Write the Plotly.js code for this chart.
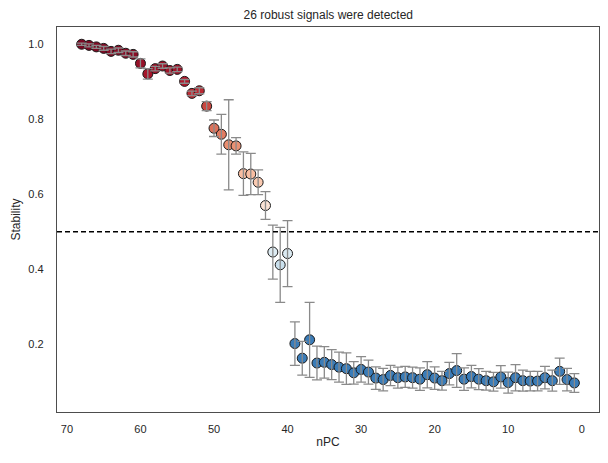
<!DOCTYPE html>
<html>
<head>
<meta charset="utf-8">
<script src="https://cdn.plot.ly/plotly-3.0.1.min.js"></script>
<style>
  html, body { margin: 0; padding: 0; background: #ffffff; }
  #chart { width: 608px; height: 463px; }
</style>
</head>
<body>
<div id="chart"></div>
<script>
// Number of principal components kept
const nPC = [68, 67, 66, 65, 64, 63, 62, 61, 60, 59, 58, 57, 56, 55, 54, 53, 52, 51, 50, 49,
             48, 47, 46, 45, 44, 43, 42, 41, 40, 39, 38, 37, 36, 35, 34, 33, 32, 31, 30, 29,
             28, 27, 26, 25, 24, 23, 22, 21, 20, 19, 18, 17, 16, 15, 14, 13, 12, 11, 10, 9,
             8, 7, 6, 5, 4, 3, 2, 1];

// Mean stability of each signal
const stability = [1.000, 0.997, 0.993, 0.989, 0.981, 0.984, 0.976, 0.973, 0.949, 0.921,
                   0.935, 0.942, 0.930, 0.933, 0.901, 0.869, 0.876, 0.835, 0.776, 0.760,
                   0.732, 0.729, 0.655, 0.654, 0.632, 0.570, 0.446, 0.412, 0.442, 0.202,
                   0.163, 0.212, 0.150, 0.152, 0.146, 0.139, 0.135, 0.124, 0.133, 0.126,
                   0.110, 0.106, 0.117, 0.111, 0.113, 0.111, 0.107, 0.119, 0.110, 0.103,
                   0.122, 0.130, 0.107, 0.114, 0.107, 0.103, 0.100, 0.113, 0.098, 0.111,
                   0.103, 0.102, 0.102, 0.111, 0.103, 0.128, 0.106, 0.097];

// Spread of the stability estimate
const stabilityErr = [0.003, 0.004, 0.004, 0.005, 0.006, 0.006, 0.006, 0.007, 0.012, 0.014,
                      0.006, 0.006, 0.007, 0.006, 0.005, 0.006, 0.008, 0.012, 0.022, 0.053,
                      0.120, 0.022, 0.058, 0.055, 0.033, 0.037, 0.072, 0.100, 0.088, 0.058,
                      0.045, 0.100, 0.045, 0.042, 0.040, 0.040, 0.042, 0.030, 0.034, 0.032,
                      0.030, 0.030, 0.027, 0.028, 0.028, 0.028, 0.030, 0.035, 0.030, 0.025,
                      0.030, 0.045, 0.030, 0.030, 0.028, 0.025, 0.025, 0.030, 0.028, 0.035,
                      0.028, 0.026, 0.026, 0.030, 0.028, 0.035, 0.030, 0.025];

const threshold = 0.5;
const robustCount = stability.filter(v => v >= threshold).length;

// Diverging red/blue scale centred on the threshold
const rdbu = [
  [0.00, '#3a7cb8'], [0.25, '#3a7cb8'], [0.42, '#d1e5f0'], [0.50, '#f7f7f7'],
  [0.60, '#fddbc7'], [0.70, '#f4a582'], [0.80, '#d6604d'], [0.90, '#b2182b'],
  [1.00, '#7a0a24']
];

const pointTrace = {
  x: nPC,
  y: stability,
  type: 'scatter',
  mode: 'markers',
  marker: {
    size: 10,
    color: stability,
    colorscale: rdbu,
    cmin: 0,
    cmax: 1,
    showscale: false,
    line: { color: '#1a1a1a', width: 1 }
  },
  hoverinfo: 'x+y'
};

const errTrace = {
  x: nPC,
  y: stability,
  type: 'scatter',
  mode: 'markers',
  marker: { size: 1, color: 'rgba(0,0,0,0)' },
  error_y: {
    type: 'data',
    array: stabilityErr,
    visible: true,
    color: '#8a8a8a',
    thickness: 1.3,
    width: 5
  },
  hoverinfo: 'skip'
};

const layout = {
  width: 608,
  height: 463,
  margin: { l: 57, r: 9, t: 27, b: 51 },
  paper_bgcolor: '#ffffff',
  plot_bgcolor: '#ffffff',
  showlegend: false,
  font: { family: 'Liberation Sans, Arial, sans-serif', size: 11, color: '#262626' },
  title: {
    text: robustCount + ' robust signals were detected',
    font: { size: 12, color: '#262626' },
    x: 0.54, xanchor: 'center',
    y: 0.967, yanchor: 'middle'
  },
  xaxis: {
    range: [71.35, -2.35],
    tickvals: [70, 60, 50, 40, 30, 20, 10, 0],
    showgrid: false,
    zeroline: false,
    showline: true,
    mirror: true,
    linecolor: '#4d4d4d',
    linewidth: 1.2,
    ticks: '',
    ticklabelstandoff: 7,
    title: { text: 'nPC', font: { size: 12 }, standoff: 3 }
  },
  yaxis: {
    range: [0.0195, 1.046],
    tickvals: [0.2, 0.4, 0.6, 0.8, 1.0],
    ticktext: ['0.2', '0.4', '0.6', '0.8', '1.0'],
    showgrid: false,
    zeroline: false,
    showline: true,
    mirror: true,
    linecolor: '#4d4d4d',
    linewidth: 1.2,
    ticks: '',
    ticklabelstandoff: 10,
    title: { text: 'Stability', font: { size: 12 }, standoff: 5 }
  },
  shapes: [{
    type: 'line',
    xref: 'paper', x0: 0, x1: 1,
    yref: 'y', y0: threshold, y1: threshold,
    line: { color: '#000000', width: 1.5, dash: '5px,3px' }
  }]
};

Plotly.newPlot('chart', [pointTrace, errTrace], layout, { displayModeBar: false, staticPlot: true });
</script>
</body>
</html>
